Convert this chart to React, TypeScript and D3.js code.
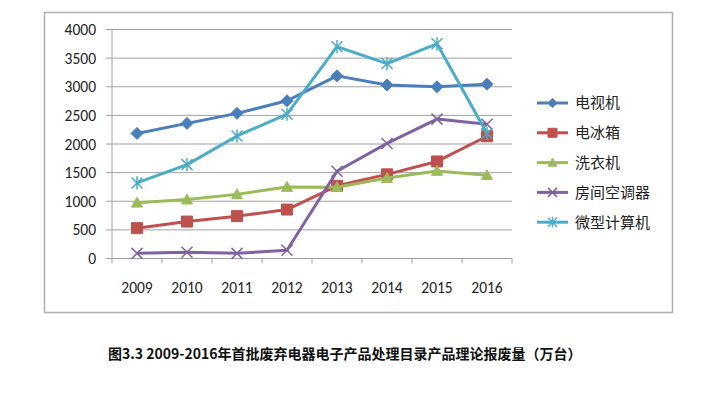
import React from 'react';
import * as d3 from 'd3';

const years = ['2009', '2010', '2011', '2012', '2013', '2014', '2015', '2016'];
const seriesNames = ['电视机', '电冰箱', '洗衣机', '房间空调器', '微型计算机'];
const tvValues = [2185, 2360, 2535, 2755, 3190, 3030, 3000, 3045];
const fridgeValues = [530, 645, 740, 855, 1270, 1470, 1695, 2135];
const washerValues = [975, 1030, 1120, 1250, 1245, 1405, 1530, 1455];
const acValues = [90, 110, 90, 145, 1525, 2010, 2435, 2345];
const pcValues = [1320, 1640, 2140, 2520, 3700, 3405, 3750, 2185];
const seriesColors = ['#4A7EBB', '#C0504D', '#9BBB59', '#7F62A1', '#4BACC6'];
const markerKinds = ['diamond', 'square', 'triangle', 'x', 'star'];
const yTicks = [0, 500, 1000, 1500, 2000, 2500, 3000, 3500, 4000];
const title = '图3.3 2009-2016年首批废弃电器电子产品处理目录产品理论报废量（万台）';

const allSeries = [tvValues, fridgeValues, washerValues, acValues, pcValues];

// marker path centred at 0,0
const markerPath = (kind: string, r: number) => {
  switch (kind) {
    case 'diamond':
      return `M0,${-r}L${r},0L0,${r}L${-r},0Z`;
    case 'square':
      return `M${-r},${-r}H${r}V${r}H${-r}Z`;
    case 'triangle':
      return `M0,${-r}L${r},${r * 0.8}L${-r},${r * 0.8}Z`;
    case 'x':
      return `M${-r},${-r}L${r},${r}M${-r},${r}L${r},${-r}`;
    default:
      return `M${-r},${-r}L${r},${r}M${-r},${r}L${r},${-r}M0,${-r * 1.2}V${r * 1.2}`;
  }
};

const Marker = ({ kind, color, x, y, r }: { kind: string; color: string; x: number; y: number; r: number }) => {
  const filled = kind === 'diamond' || kind === 'square' || kind === 'triangle';
  return (
    <path
      d={markerPath(kind, r)}
      transform={`translate(${x},${y})`}
      fill={filled ? color : 'none'}
      stroke={color}
      strokeWidth={filled ? 1 : 1.5}
    />
  );
};

const App = () => {
  const left = 112;
  const right = 512;
  const top = 29.5;
  const bottom = 258.5;

  const x = d3.scaleBand().domain(years).range([left, right]);
  const y = d3.scaleLinear().domain([0, 4000]).range([bottom, top]);
  const cx = (d: string) => (x(d) as number) + x.bandwidth() / 2;

  const line = d3
    .line<number>()
    .x((_, i) => cx(years[i]))
    .y((v) => y(v));

  const gridColor = '#A0A0A0';
  const font = 'Calibri, Carlito, "Liberation Sans", Arial, sans-serif';

  return (
    <svg width={720} height={393} style={{ position: 'absolute', left: 0, top: 0, background: '#fff' }}>
      <rect x={44.5} y={12.5} width={628} height={300} fill="#fff" stroke="#B0B0B0" strokeWidth={1.5} />

      {/* gridlines and y ticks */}
      {yTicks.map((t) => (
        <g key={t}>
          <line x1={left - 6} x2={right} y1={y(t)} y2={y(t)} stroke={gridColor} strokeWidth={1} />
          <text x={96} y={y(t)} dy="0.36em" textAnchor="end" fontSize={15.5} fontFamily={font} fill="#222">
            {t}
          </text>
        </g>
      ))}
      <line x1={left} x2={left} y1={top} y2={bottom} stroke={gridColor} />

      {/* x ticks */}
      {years.map((yr) => (
        <line key={yr} x1={x(yr)} x2={x(yr)} y1={bottom} y2={bottom + 5} stroke={gridColor} />
      ))}
      <line x1={right} x2={right} y1={bottom} y2={bottom + 5} stroke={gridColor} />
      {years.map((yr) => (
        <text key={yr} x={cx(yr)} y={293} textAnchor="middle" fontSize={15.5} fontFamily={font} fill="#222">
          {yr}
        </text>
      ))}

      {/* series */}
      {allSeries.map((vals, si) => (
        <g key={si}>
          <path d={line(vals) as string} fill="none" stroke={seriesColors[si]} strokeWidth={3} strokeLinejoin="round" />
          {vals.map((v, i) => (
            <Marker key={i} kind={markerKinds[si]} color={seriesColors[si]} x={cx(years[i])} y={y(v)} r={si === 0 ? 6 : 5.5} />
          ))}
        </g>
      ))}

      {/* legend */}
      {seriesNames.map((name, i) => {
        const ly = 103 + i * 29.8;
        return (
          <g key={name}>
            <line x1={537} x2={568} y1={ly} y2={ly} stroke={seriesColors[i]} strokeWidth={3} />
            <Marker kind={markerKinds[i]} color={seriesColors[i]} x={552.5} y={ly} r={4.5} />
            <text x={575} y={ly} dy="0.36em" fontSize={15} fontFamily='"Noto Sans CJK SC", sans-serif' fill="#222">
              {name}
            </text>
          </g>
        );
      })}

      <text x={108} y={354} dy="0.36em" fontSize={14} fontWeight="bold" fontFamily='"Noto Sans CJK SC", serif' fill="#111">
        {title}
      </text>
    </svg>
  );
};

export default App;
